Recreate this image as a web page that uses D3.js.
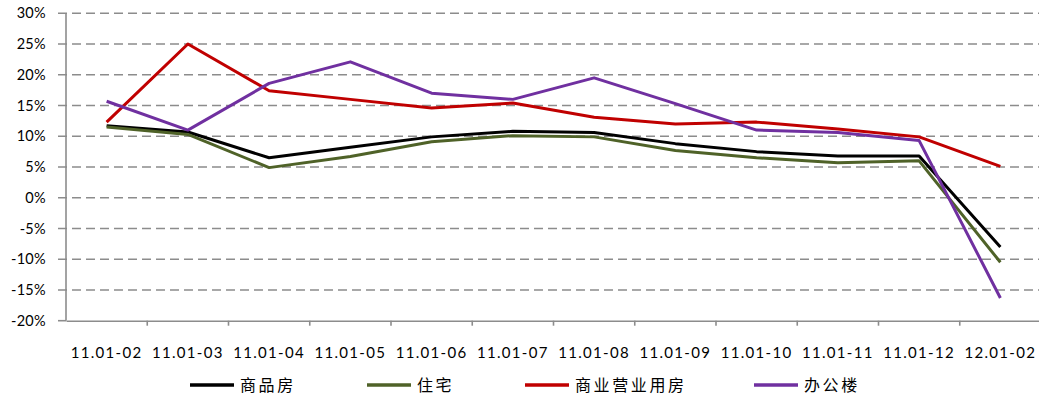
<!DOCTYPE html>
<html>
<head>
<meta charset="utf-8">
<script src="https://cdn.jsdelivr.net/npm/d3@7"></script>
<style>
  html, body { margin: 0; padding: 0; background: #fff; }
  svg { display: block; }
  text { font-family: Lato, "Noto Sans CJK SC", sans-serif; fill: #000; }
</style>
</head>
<body>
<svg id="chart" width="1039" height="399"></svg>
<script>
// Categories (periods) and year-on-year growth, in percent
const categories = ["11.01-02","11.01-03","11.01-04","11.01-05","11.01-06","11.01-07",
                    "11.01-08","11.01-09","11.01-10","11.01-11","11.01-12","12.01-02"];
const commercialHousing = [11.7, 10.7, 6.5, 8.2, 9.9, 10.8, 10.6, 8.8, 7.5, 6.8, 6.8, -8.0];
const residential       = [11.5, 10.3, 4.9, 6.7, 9.1, 10.1, 9.9, 7.7, 6.5, 5.7, 6.0, -10.5];
const businessPremises  = [12.3, 25.0, 17.4, 16.0, 14.6, 15.4, 13.1, 12.0, 12.3, 11.2, 9.9, 5.1];
const offices           = [15.7, 11.0, 18.6, 22.1, 17.0, 16.0, 19.5, 15.3, 11.0, 10.6, 9.3, -16.3];
const yTicks = [-20, -15, -10, -5, 0, 5, 10, 15, 20, 25, 30];

const seriesNames  = ["商品房", "住宅", "商业营业用房", "办公楼"];
const seriesValues = [commercialHousing, residential, businessPremises, offices];
const seriesColors = ["#000000", "#4F6228", "#C00000", "#7030A0"];

const svg = d3.select("#chart");
const plotLeft = 66, plotRight = 1041, plotTop = 13.3, plotBottom = 320.7;

const x = d3.scaleBand().domain(categories).range([plotLeft, plotRight]);
const y = d3.scaleLinear().domain([-20, 30]).range([plotBottom, plotTop]);

// Dashed horizontal gridlines, extending left as tick marks
svg.append("g").selectAll("line").data(yTicks.filter(d => d !== -20)).join("line")
  .attr("x1", plotLeft - 8).attr("x2", plotRight)
  .attr("y1", d => y(d)).attr("y2", d => y(d))
  .attr("stroke", "#8c8c8c").attr("stroke-width", 1.6)
  .attr("stroke-dasharray", "9,5");

// Y axis line and bottom tick
svg.append("line").attr("x1", plotLeft).attr("x2", plotLeft).attr("y1", plotTop).attr("y2", plotBottom)
  .attr("stroke", "#8c8c8c").attr("stroke-width", 1.6);
svg.append("line").attr("x1", plotLeft - 8).attr("x2", plotLeft).attr("y1", y(-20)).attr("y2", y(-20))
  .attr("stroke", "#8c8c8c").attr("stroke-width", 1.6);

// X axis along the bottom of the plot
const xAxis = d3.axisBottom(x).tickSize(0).tickPadding(27);
const gx = svg.append("g").attr("transform", `translate(0,${plotBottom})`).call(xAxis);
gx.select(".domain").attr("stroke", "#8c8c8c").attr("stroke-width", 1.6);
gx.selectAll("text").attr("font-size", 15).attr("fill", "#000")
  .attr("font-family", "Lato, sans-serif")
  .attr("letter-spacing", "1.3px");
// Category boundary ticks
const bounds = categories.map(c => x(c)).slice(1);
gx.selectAll("line.bound").data(bounds).join("line").attr("class", "bound")
  .attr("x1", d => d).attr("x2", d => d).attr("y1", 0).attr("y2", 5)
  .attr("stroke", "#8c8c8c").attr("stroke-width", 1.6);

// Y tick labels
svg.append("g").selectAll("text").data(yTicks).join("text")
  .attr("x", 46).attr("y", d => y(d)).attr("dy", "0.35em")
  .attr("text-anchor", "end").attr("font-size", 14.5)
  .attr("letter-spacing", "0.3px")
  .text(d => d + "%");

// Series lines
const line = d3.line()
  .x((d, i) => x(categories[i]) + x.bandwidth() / 2)
  .y(d => y(d));
svg.append("g").selectAll("path").data(seriesValues).join("path")
  .attr("d", d => line(d))
  .attr("fill", "none")
  .attr("stroke", (d, i) => seriesColors[i])
  .attr("stroke-width", 3)
  .attr("stroke-linejoin", "round");

// Legend
const legendX = [190, 367, 525, 754];
const lg = svg.append("g").selectAll("g").data(seriesNames).join("g")
  .attr("transform", (d, i) => `translate(${legendX[i]},385)`);
lg.append("line").attr("x1", 0).attr("x2", 44).attr("y1", 0).attr("y2", 0)
  .attr("stroke", (d, i) => seriesColors[i]).attr("stroke-width", 3.5);
lg.append("text").attr("x", 50).attr("dy", "0.36em").attr("font-size", 16)
  .attr("letter-spacing", "2.6px")
  .attr("fill", "#222")
  .attr("font-family", "'Noto Sans CJK SC', sans-serif")
  .text(d => d);
</script>
</body>
</html>
